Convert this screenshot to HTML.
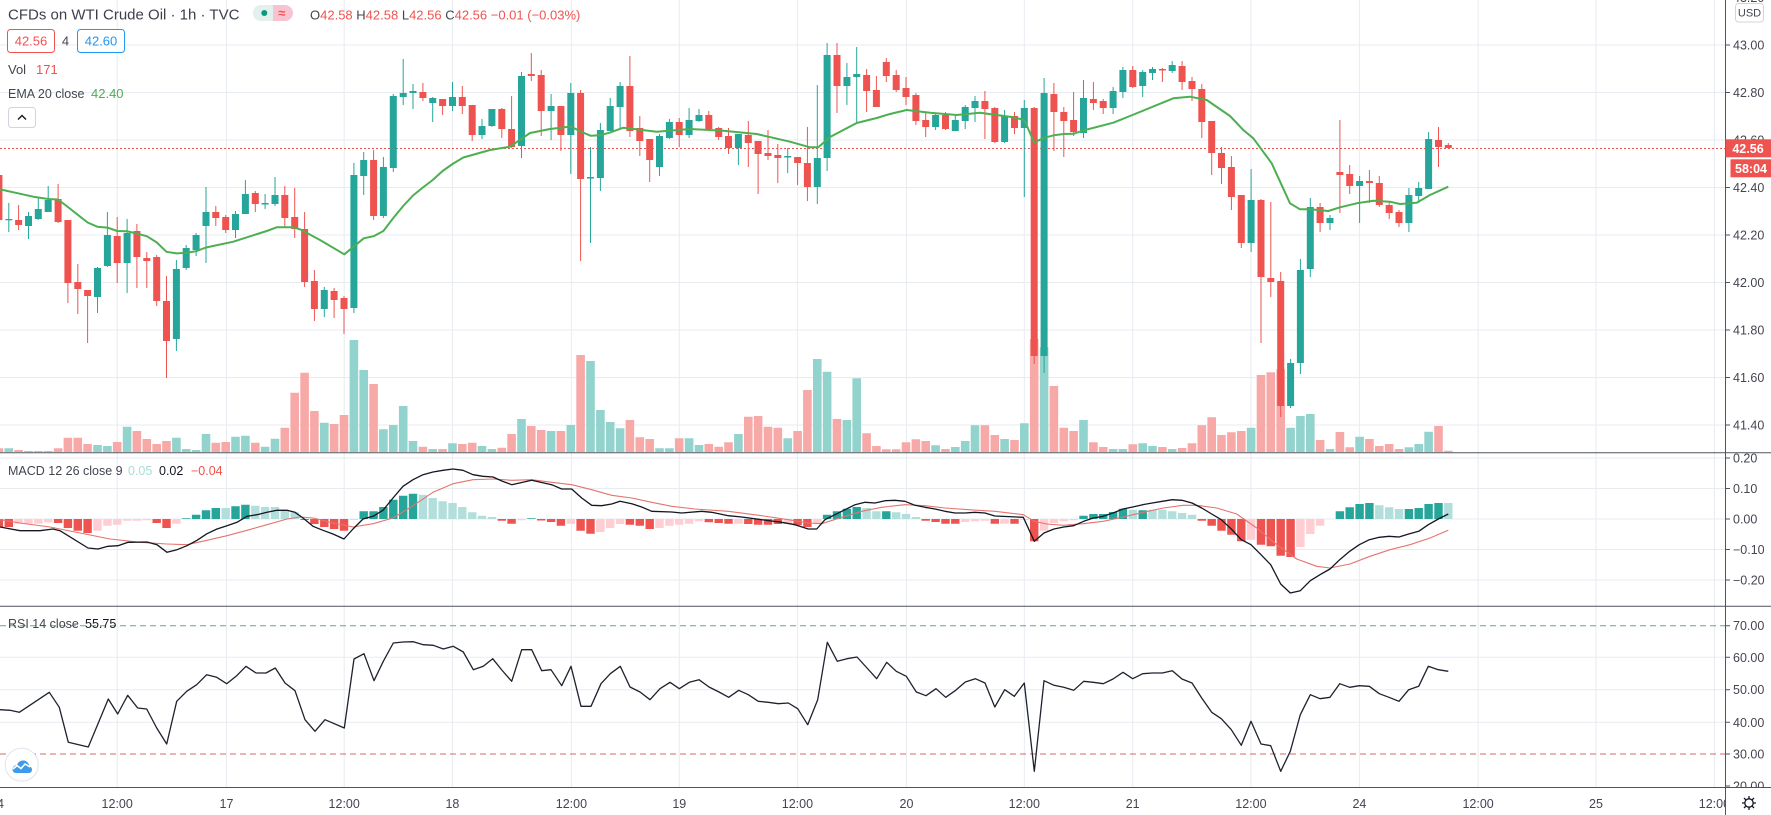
<!DOCTYPE html>
<html><head><meta charset="utf-8"><style>
html,body{margin:0;padding:0;background:#fff;}
body{width:1771px;height:815px;overflow:hidden;}
svg{display:block;}
</style></head><body>
<svg width="1771" height="815" viewBox="0 0 1771 815" xmlns="http://www.w3.org/2000/svg" font-family="'Liberation Sans', Arial, sans-serif">
<defs>
<clipPath id="cMain"><rect x="0" y="0" width="1725" height="452.5"/></clipPath>
<clipPath id="cMacd"><rect x="0" y="453.5" width="1725" height="152.5"/></clipPath>
<clipPath id="cRsi"><rect x="0" y="607" width="1725" height="180"/></clipPath>
<clipPath id="aMain"><rect x="1725" y="0" width="46" height="452.5"/></clipPath>
<clipPath id="aMacd"><rect x="1725" y="453.5" width="46" height="152.5"/></clipPath>
<clipPath id="aRsi"><rect x="1725" y="607" width="46" height="180"/></clipPath>
<clipPath id="aTime"><rect x="0" y="788" width="1725" height="27"/></clipPath>
</defs>
<rect width="1771" height="815" fill="#fff"/>

<!-- grid -->
<g stroke="#e8ebf0" stroke-width="1">
<path d="M117.2 0V787M226.5 0V787M344.2 0V787M452.4 0V787M571.4 0V787M679.3 0V787M797.4 0V787M906.5 0V787M1024.3 0V787M1132.7 0V787M1250.9 0V787M1359.4 0V787M1478.1 0V787M1596 0V787M1714.4 0V787"/>
<path d="M0 45H1725M0 92.5H1725M0 140H1725M0 187.5H1725M0 235H1725M0 282.5H1725M0 330H1725M0 377.5H1725M0 425H1725"/>
<path d="M0 458H1725M0 488.5H1725M0 519H1725M0 549.5H1725M0 580H1725"/>
<path d="M0 657.3H1725M0 689.7H1725M0 722.3H1725"/>
</g>

<!-- MAIN PANE -->
<g clip-path="url(#cMain)">
<!-- volume -->
<path fill="none" stroke="#93d3cd" stroke-width="8.6" d="M8.8 448.3V452M28.5 451V452M38.3 451V452M48.2 451V452M97.5 445V452M107.4 446V452M127.1 426.7V452M176.4 437.7V452M186.2 449V452M196.1 450V452M206 434V452M235.5 436.7V452M245.4 435.7V452M265.1 446.7V452M275 438.7V452M324.3 422.7V452M353.9 340V452M363.7 370V452M383.4 429.3V452M393.3 425V452M403.2 406V452M413 441V452M432.7 449V452M452.5 443.3V452M482 446V452M491.9 449V452M521.5 419V452M551.1 431V452M570.8 425V452M590.5 361V452M600.4 410V452M610.2 422V452M620.1 428.3V452M659.5 448.3V452M669.4 448.3V452M689.1 438.3V452M699 445V452M738.4 434V452M787.7 438.3V452M817.3 359V452M827.1 371.7V452M846.9 420V452M856.7 378.3V452M935.6 445.3V452M955.3 447V452M965.2 441V452M975 425.3V452M1004.6 439V452M1024.3 423.3V452M1044.1 347.3V452M1083.5 420V452M1113.1 449V452M1122.9 449V452M1142.7 443.3V452M1152.5 446V452M1172.2 449V452M1251.1 427.7V452M1290.6 427.7V452M1300.4 416V452M1310.3 414V452M1330 449V452M1359.6 436.7V452M1408.9 447.3V452M1418.7 444V452M1428.6 431.7V452"/>
<path fill="none" stroke="#f7a9a8" stroke-width="8.6" d="M-1.1 448.3V452M18.6 450V452M58.1 448.3V452M67.9 437.7V452M77.8 437.7V452M87.6 444V452M117.2 442V452M136.9 431V452M146.8 439V452M156.7 444V452M166.5 441V452M215.8 442.7V452M225.7 442V452M255.3 442.7V452M284.8 427.7V452M294.7 392.7V452M304.6 372.7V452M314.4 411V452M334.1 424V452M344 415V452M373.6 384V452M422.9 446.7V452M442.6 449V452M462.3 444V452M472.2 442.7V452M501.8 447.7V452M511.6 434V452M531.3 426V452M541.2 430V452M560.9 431V452M580.6 355V452M629.9 420V452M639.8 437.3V452M649.7 439V452M679.2 438.3V452M708.8 444V452M718.7 446.7V452M728.5 442.3V452M748.3 416.7V452M758.1 416V452M768 426.7V452M777.8 427.7V452M797.6 431V452M807.4 390V452M837 419V452M866.6 433.3V452M876.4 446V452M886.3 449.3V452M896.2 449.3V452M906 442.3V452M915.9 439.3V452M925.7 441V452M945.5 449V452M984.9 425.3V452M994.8 435V452M1014.5 440V452M1034.2 339V452M1053.9 386V452M1063.8 427.7V452M1073.6 431V452M1093.4 442.3V452M1103.2 447V452M1132.8 444.3V452M1162.4 447V452M1182.1 448V452M1192 443.3V452M1201.8 425.3V452M1211.7 417.3V452M1221.5 435V452M1231.4 432.3V452M1241.3 431V452M1261 375V452M1270.8 372.3V452M1280.7 369.3V452M1320.1 440V452M1339.9 432V452M1349.7 447.3V452M1369.4 439V452M1379.3 446V452M1389.2 444V452M1399 449V452M1438.5 426V452M1448.3 450.7V452"/>

<!-- last price dotted line -->
<path d="M0 148.5H1725" stroke="#ef5350" stroke-width="1" stroke-dasharray="2 2"/>

<!-- green candles -->
<path fill="none" stroke="#26a69a" stroke-width="1" d="M8.8 203V232M28.5 212V239M38.3 198V220M48.2 186V212M97.5 267V313M107.4 212V267M127.1 219V293M176.4 260V351M186.2 245V270M196.1 233V256M206 187V263M235.5 211V238M245.4 180V214M265.1 194V209M275 177V206M324.3 287V317M353.9 163V313M363.7 152V195M383.4 157V218M393.3 94V172M403.2 59V105M413 84V109M432.7 97V122M452.5 82V111M482 119V139M491.9 109V127M521.5 72V158M551.1 94V140M570.8 83V174M590.5 147V243M600.4 123V191M610.2 98V131M620.1 82V129M659.5 134V176M669.4 119V139M689.1 108V138M699 109V122M738.4 134V165M787.7 148V173M817.3 85V204M827.1 43V171M846.9 63V105M856.7 47V123M935.6 113V130M955.3 116V131M965.2 105V129M975 96V122M1004.6 110V143M1024.3 100V197M1044.1 78V373M1083.5 80V138M1113.1 87V114M1122.9 67V98M1142.7 70V97M1152.5 67V80M1172.2 61V73M1251.1 169V252M1290.6 359V408M1300.4 259V374M1310.3 198V277M1330 215V230M1359.6 176V223M1408.9 188V232M1418.7 182V203M1428.6 132V189"/>
<path fill="none" stroke="#26a69a" stroke-width="7" d="M8.8 219V220.2M28.5 216V226M38.3 209V219M48.2 200V212M97.5 268V297M107.4 235V266M127.1 233V263M176.4 269V339M186.2 248V268M196.1 235V250M206 212V226M235.5 214V230M245.4 194V214M265.1 203V204.5M275 195V204M324.3 290V309M353.9 175V308M363.7 160V176M383.4 167V216M393.3 96V168M403.2 93V97M413 91V93M432.7 98V103M452.5 97V106M482 126V135M491.9 109V126M521.5 76V146M551.1 106V111M570.8 93V135M590.5 177V178.5M600.4 130V178M610.2 106V131M620.1 86V107M659.5 136V167M669.4 122V138M689.1 120V135M699 115V121M738.4 134V148M787.7 156V157.5M817.3 158V187M827.1 55V158M846.9 77V86M856.7 74V77M935.6 115V127M955.3 120V131M965.2 107V121M975 101V108M1004.6 116V142M1024.3 108V128M1044.1 93V356M1083.5 98V133M1113.1 91V108M1122.9 70V92M1142.7 72V86M1152.5 69V73M1172.2 65V71M1251.1 200V243M1290.6 363V406M1300.4 270V363M1310.3 207V269M1330 218V223M1359.6 181V186M1408.9 195V223M1418.7 188V196M1428.6 139V189"/>
<!-- red candles -->
<path fill="none" stroke="#ef5350" stroke-width="1" d="M-1.1 170V225M18.6 205V230M58.1 184V223M67.9 220V303M77.8 264V314M87.6 290V343M117.2 217V283M136.9 224V288M146.8 252V288M156.7 255V306M166.5 276V378M215.8 206V226M225.7 215V233M255.3 191V212M284.8 186V228M294.7 188V238M304.6 212V287M314.4 270V321M334.1 288V318M344 296V334M373.6 150V220M422.9 83V101M442.6 99V115M462.3 86V114M472.2 105V141M501.8 108V138M511.6 96V148M531.3 53V81M541.2 70V136M560.9 106V151M580.6 90V261M629.9 56V137M639.8 116V156M649.7 139V182M679.2 118V147M708.8 111V130M718.7 127V140M728.5 128V154M748.3 121V167M758.1 141V194M768 130V160M777.8 144V183M797.6 157V185M807.4 127V201M837 43V113M866.6 69V112M876.4 76V107M886.3 58V82M896.2 70V92M906 77V105M915.9 93V125M925.7 113V137M945.5 112V130M984.9 91V139M994.8 107V143M1014.5 112V134M1034.2 107V364M1053.9 83V151M1063.8 107V157M1073.6 92V136M1093.4 82V110M1103.2 99V114M1132.8 66V88M1162.4 68V82M1182.1 61V90M1192 77V101M1201.8 84V138M1211.7 121V175M1221.5 147V184M1231.4 156V210M1241.3 195V248M1261 199V343M1270.8 202V297M1280.7 272V417M1320.1 203V232M1339.9 120V213M1349.7 165V194M1369.4 170V203M1379.3 176V207M1389.2 202V219M1399 210V227M1438.5 127V167M1448.3 143V148.5"/>
<path fill="none" stroke="#ef5350" stroke-width="7" d="M-1.1 175V220M18.6 220V225M58.1 199V222M67.9 220V283M77.8 282V289M87.6 290V296M117.2 236V263M136.9 231V257M146.8 258V261M156.7 257V301M166.5 301V341M215.8 212V218M225.7 217V230M255.3 193V204M284.8 195V218M294.7 217V229M304.6 229V282M314.4 281V309M334.1 291V300M344 298V309M373.6 160V216M422.9 92V98M442.6 99V106M462.3 97V106M472.2 105V135M501.8 109V129M511.6 129V147M531.3 74V76M541.2 75V111M560.9 106V135M580.6 93V179M629.9 86V131M639.8 128V141M649.7 139V160M679.2 122V135M708.8 115V129M718.7 128V137M728.5 136V148M748.3 135V143M758.1 141V154M768 153V156M777.8 155V158M797.6 157V163M807.4 163V187M837 55V86M866.6 75V91M876.4 90V107M886.3 62V76M896.2 75V90M906 88V97M915.9 95V121M925.7 120V127M945.5 115V129M984.9 101V109M994.8 108V142M1014.5 116V128M1034.2 108V356M1053.9 94V112M1063.8 112V121M1073.6 120V132M1093.4 99V103M1103.2 101V108M1132.8 70V87M1162.4 69V70.5M1182.1 66V82M1192 81V89M1201.8 89V122M1211.7 121V153M1221.5 153V168M1231.4 167V197M1241.3 195V243M1261 200V277M1270.8 278V282M1280.7 281V406M1320.1 207V223M1339.9 172V175M1349.7 174V186M1369.4 181V183M1379.3 183V205M1389.2 205V213M1399 212V223M1438.5 140V147M1448.3 145V148"/>

<!-- EMA 20 -->
<polyline fill="none" stroke="#4caf50" stroke-width="2" stroke-linejoin="round" points="0,189.3 33.3,196.7 48.2,199 58.1,199.5 67.9,207 77.8,214.8 87.6,222.5 97.5,226.8 107.4,227.6 117.2,231 127.1,231.2 136.9,233.6 146.8,236.2 156.7,242.4 166.5,251.8 176.4,253.4 186.2,252.9 196.1,251.2 206,247.5 233.3,241.7 266.7,231 276.7,227.3 293.3,227.3 300,229.3 320,240 344.3,254.3 353.9,246.5 363.7,238.3 373.6,236.2 383.4,231 393.3,218 403.2,206 413,195.5 422.9,187.5 432.7,180 442.6,171 452.5,164 463.3,157.5 490,150 510,146.7 530,133 550,129 570.8,126.5 580.6,131.5 590.5,135.7 600.4,135.2 610.2,132.4 623.3,127.7 656.7,131.7 690,129 723.3,130.7 756.7,134 790,141.7 810,147.3 818.3,147.3 830,137 856.7,123 876.7,118 890,114 906.7,110 930,112.7 956.7,115 980,112.7 1013.3,117.3 1024.3,120 1034.2,142.5 1044.1,137.8 1053.9,135.3 1063.8,134 1073.6,133.8 1083.5,130.4 1113.3,122.7 1130,116 1173.3,98.3 1190,96.7 1206.7,100 1230,116 1243.3,130 1253.3,138.3 1271.7,163.3 1290,203.3 1300,209.3 1310,209.3 1328.3,211 1340,207.3 1356.7,203.3 1373.3,200.7 1390,201.7 1400,204 1416.7,202.7 1430,195 1448.3,186.7"/>
</g>

<!-- MACD PANE -->
<g clip-path="url(#cMacd)">
<path fill="none" stroke="#26a69a" stroke-width="8.4" d="M186.2 519V518.3M196.1 519V514.7M206 519V510.3M215.8 519V508M235.5 519V506.3M245.4 519V504.7M363.7 519V511.3M373.6 519V511.3M383.4 519V507M393.3 519V499.7M403.2 519V495.7M413 519V493.7M531.3 519V518.3M827.1 519V514.7M837 519V511.3M846.9 519V508.7M856.7 519V507M886.3 519V511.3M1083.5 519V515.7M1093.4 519V514M1103.2 519V514M1113.1 519V512M1122.9 519V508.7M1142.7 519V510.3M1339.9 519V511.3M1349.7 519V507.3M1359.6 519V504M1369.4 519V503M1408.9 519V509M1418.7 519V508M1428.6 519V504M1438.5 519V503"/>
<path fill="none" stroke="#b2dfdb" stroke-width="8.4" d="M225.7 519V508M255.3 519V505.7M265.1 519V507M275 519V507M284.8 519V509.7M294.7 519V512.3M422.9 519V494.7M432.7 519V498M442.6 519V501.3M452.5 519V503M462.3 519V507M472.2 519V512.3M482 519V515.7M491.9 519V517M866.6 519V508M876.4 519V511.3M896.2 519V512.3M906 519V514M915.9 519V517M1132.8 519V509.7M1152.5 519V509.7M1162.4 519V509.7M1172.2 519V511.3M1182.1 519V513M1192 519V514.7M1379.3 519V505.3M1389.2 519V507.3M1399 519V509M1448.3 519V503"/>
<path fill="none" stroke="#ef5350" stroke-width="8.4" d="M-1.1 519V527M8.8 519V527M58.1 519V523M67.9 519V528M77.8 519V530.7M87.6 519V533M156.7 519V523M166.5 519V528M304.6 519V520M314.4 519V524M324.3 519V527M334.1 519V529M344 519V530.7M501.8 519V520.7M511.6 519V523.7M541.2 519V520.5M551.1 519V522M560.9 519V525.7M580.6 519V530.7M590.5 519V533.7M629.9 519V524.7M639.8 519V525.7M649.7 519V529M708.8 519V522.3M718.7 519V523M728.5 519V523.7M748.3 519V524M758.1 519V524.7M768 519V524.7M777.8 519V524M797.6 519V525.3M807.4 519V527M925.7 519V520.7M935.6 519V522M945.5 519V523.7M955.3 519V523.7M994.8 519V523.7M1014.5 519V523.7M1034.2 519V541.3M1201.8 519V520.7M1211.7 519V525.7M1221.5 519V530.7M1231.4 519V534.7M1241.3 519V541.3M1261 519V544.7M1270.8 519V546.3M1280.7 519V555.7M1290.6 519V557"/>
<path fill="none" stroke="#ffcdd2" stroke-width="8.4" d="M18.6 519V523.7M28.5 519V523.7M38.3 519V523.7M48.2 519V522.3M97.5 519V530.7M107.4 519V525.7M117.2 519V524.7M127.1 519V520.7M136.9 519V520.7M146.8 519V520.3M176.4 519V523.7M353.9 519V520M521.5 519V520.3M570.8 519V523.7M600.4 519V532M610.2 519V528M620.1 519V524M659.5 519V528M669.4 519V525.7M679.2 519V524.7M689.1 519V523.7M699 519V521.3M738.4 519V523.7M787.7 519V524M817.3 519V523M965.2 519V522M975 519V521.3M984.9 519V520.7M1004.6 519V523.7M1024.3 519V520M1044.1 519V530.7M1053.9 519V523M1063.8 519V521.3M1073.6 519V520.3M1251.1 519V539.7M1300.4 519V547M1310.3 519V534M1320.1 519V525.7"/>
<!-- signal -->
<polyline fill="none" stroke="#e4746f" stroke-width="1.1" stroke-linejoin="round" points="0,519.7 20,523 50,527 80,533 110,539 140,542.3 167,544 187,544.7 207,540.3 227,535.7 247,530.3 267,524.7 287,519 300,517 313,518 333,523 353,527 373,523.7 393,518 413,505.7 433,492.3 453,483.7 473,479.7 493,479 511.7,480.3 531.7,479.7 551.7,482.3 571.7,484.7 591.7,489.7 611.7,495.3 631.7,498 651.7,502.3 671.7,506.3 695,509 728.3,511.3 761.7,515.7 788.3,519.7 808.3,523 821.7,523.7 841.7,517.3 861.7,511.3 881.7,507.3 905,504.7 925,505.7 945,508 968.3,509.7 995,511.3 1023.3,514.7 1034.3,521.3 1046.7,524 1063.3,525.3 1083.3,523.7 1103.3,521.3 1123.3,517 1143.3,512.3 1163.3,508 1183.3,505.3 1196.7,505.3 1216.7,508 1236.7,514 1256.7,528 1276.7,544.7 1296.7,559 1316.7,566.3 1330,568 1350,564 1370,556.3 1390,549.7 1410,544.7 1430,538 1448.3,530.3"/>
<!-- macd -->
<polyline fill="none" stroke="#131722" stroke-width="1.3" stroke-linejoin="round" points="0,527 20,530.7 40,530.7 53,529 60,530.7 88,548 98,549 108,546.3 118,545.7 128,542.3 147,542 157,544.7 167,552.3 177,549.7 187,545.7 197,540.3 207,533.7 217,529 227,525.7 237,522.3 247,516.3 257,514.7 267,512.3 277,510.3 287,510.3 295,512.3 303,518 313,526.3 323,530.3 333,534 344,539 353,529 363,519 373,516.3 383,510.3 393,498 403,486.3 413,479.7 423,474.7 433,472 443,470.3 453,469 463,470.3 473,474.7 483,476.3 493,477 501.8,481 511.7,484.7 531.7,480.3 551.7,484.7 561.7,489 571.7,489 581.7,498 591.7,505.3 601.7,505.7 611.7,504 620,501.3 631.7,503.7 641.7,507 651.7,511.3 671.7,512 681.7,513 701.7,511.3 711.7,512.3 728.3,515.7 741.7,517 761.7,519.7 781.7,522.3 795,524.7 808.3,529 816.7,529 825,519.7 835,514.7 845,509.7 855,504.7 865,502.3 875,503 885,500.7 895,500.3 905,501.3 915,505.3 925,507.3 935,509 945,511.3 955,513 965,513 975,512.3 985,513 994.8,516 1023.3,517.3 1034.3,541.3 1044,533 1054,529 1063.7,527 1073.7,525.7 1083.7,521.3 1093.3,518 1103.3,516.3 1113,513 1123,509 1132.7,507 1142.7,504.7 1152.3,503 1162.3,501.3 1172.3,499.7 1182,500.3 1192,503 1201.7,508 1211.7,514 1221.3,519.7 1231.3,529 1241.3,539.7 1251,544.7 1261,554.7 1270.7,564.7 1280.7,584 1290.3,593 1300.3,590.7 1310.3,580.7 1320,574.7 1330,569 1339.7,559.7 1349.7,551.3 1359.3,544.7 1369.3,539.7 1379.3,537.3 1389,536.3 1399,537 1408.7,534 1418.7,531.3 1428.3,524.7 1438.3,519 1448.3,514"/>
</g>

<!-- RSI PANE -->
<g clip-path="url(#cRsi)">
<path d="M0 625.7H1725" stroke="#6fa584" stroke-width="1" stroke-dasharray="6 4"/>
<path d="M0 754H1725" stroke="#d06a68" stroke-width="1" stroke-dasharray="6 4"/>
<polyline fill="none" stroke="#1e222d" stroke-width="1.3" stroke-linejoin="round" points="0,709.7 10,710.3 19.3,712.3 49.3,692.3 59.3,707.3 68.3,742.3 88.3,747 108.3,699 117.7,714 127.7,695.3 137.7,708 146.7,709 156.7,728 166.7,744 176.7,701.3 186.7,691.3 196.7,684.7 206.7,674.7 216.7,677.3 226.7,683.7 236.7,675.7 246,666.3 256,673 266,673 275.3,668 285,683 295,690.7 305,719.7 315,731.3 325,719.7 344.3,728 354,659 364,653.7 374,680.7 383.3,661.3 393.3,643 403.3,642 413.3,641.7 423.3,644.7 433.3,645.3 443.3,649 453.3,646.3 463.3,652 473.3,669.7 483.3,666.3 492.7,658.7 501.8,670 511.7,681.3 521.7,649.7 531.7,649.7 541.7,670.7 551,669.7 561.7,685.7 571,666.3 581,706.3 591,706.3 601,683.7 610.3,673.7 620.3,666.3 630,687 640,692 650,699.7 660,688.7 670,682.3 679.3,688.7 689.3,682.3 699,679.7 709,687 719,692 728.7,697.3 738.7,690.3 748.3,694.7 758.3,701.3 768.3,702.3 778.3,703.7 788.3,703 797.7,708.7 807.7,724.7 817.7,699.7 827.3,642.3 837.3,661.3 847,658.7 857,657 867,668 876.7,678.7 886.7,662.3 896.3,671.3 906.3,676.3 916.3,692 926,695.7 936,688.7 945.7,697.3 955.7,690.3 965.3,682 975.3,678.7 985,683 994.8,707 1004.7,689.7 1014.3,696.3 1024.3,683 1034.3,771.3 1044,680.7 1054,685.3 1063.7,687.3 1073.7,690.3 1083.7,681.3 1093.3,682.3 1103.3,683.7 1113,679 1123,672.3 1132.7,678.7 1142.7,673.7 1152.3,673 1162.3,673 1172.3,670.7 1182,679 1192,683 1201.7,698 1211.7,712.3 1221.3,718.7 1231.3,729.7 1241.3,745.3 1251,721.3 1261,744 1270.7,745.7 1280.7,771.3 1290.3,751.3 1300.3,714.7 1310.3,694.7 1320,698.7 1330,697.3 1339.7,683.7 1349.7,687.3 1359.3,685.7 1369.3,686.3 1379.3,693.7 1389,697.3 1399,701.3 1408.7,689.7 1418.7,686.3 1428.3,666.3 1438.3,669.7 1448.3,671.3"/>
<!-- TV logo -->
<circle cx="21.7" cy="764.7" r="16.5" fill="#fff" stroke="#e0e3eb" stroke-width="1"/>
<path fill="#3d9be9" d="M12.5 769.5c0-2.5 2-4.5 4.5-4.5c1-3 3.5-4.5 6-4.5c3.5 0 6 2.5 6.2 5.7c1.6 .4 2.8 1.8 2.8 3.5c0 2-1.6 3.3-3.5 3.3h-12.5c-2 0-3.5-1.5-3.5-3.5z"/>
<polyline points="13,769 17,765.5 21,768.5 25,764 30,767" stroke="#fff" stroke-width="1.6" fill="none"/>
</g>

<!-- pane separators and axis -->
<g stroke="#50535e" stroke-width="1">
<path d="M0 452.7H1771M0 606.3H1771M0 787.5H1771"/>
<path d="M1725.5 0V815"/>
<path d="M1725 45H1730M1725 92.5H1730M1725 140H1730M1725 187.5H1730M1725 235H1730M1725 282.5H1730M1725 330H1730M1725 377.5H1730M1725 425H1730M1725 458H1730M1725 488.5H1730M1725 519H1730M1725 549.5H1730M1725 580H1730M1725 625.7H1730M1725 657.3H1730M1725 689.7H1730M1725 722.3H1730M1725 754H1730M1725 786H1730"/>
</g>

<!-- price axis labels -->
<g font-size="12.5" fill="#434651">
<g clip-path="url(#aMain)">
<text x="1733" y="2">43.20</text>
<text x="1733" y="49.5">43.00</text>
<text x="1733" y="97">42.80</text>
<text x="1733" y="144.5">42.60</text>
<text x="1733" y="192">42.40</text>
<text x="1733" y="239.5">42.20</text>
<text x="1733" y="287">42.00</text>
<text x="1733" y="334.5">41.80</text>
<text x="1733" y="382">41.60</text>
<text x="1733" y="429.5">41.40</text>
</g>
<g clip-path="url(#aMacd)">
<text x="1733" y="462.5">0.20</text>
<text x="1733" y="493">0.10</text>
<text x="1733" y="523.5">0.00</text>
<text x="1733" y="554">−0.10</text>
<text x="1733" y="584.5">−0.20</text>
</g>
<g clip-path="url(#aRsi)">
<text x="1733" y="630.2">70.00</text>
<text x="1733" y="661.8">60.00</text>
<text x="1733" y="694.2">50.00</text>
<text x="1733" y="726.8">40.00</text>
<text x="1733" y="758.5">30.00</text>
<text x="1733" y="790.5">20.00</text>
</g>
</g>

<!-- USD box -->
<rect x="1735.5" y="3.5" width="28" height="18.5" rx="3" fill="#fff" stroke="#d1d4dc"/>
<text x="1749.5" y="16.5" font-size="11" fill="#434651" text-anchor="middle">USD</text>

<!-- price labels -->
<rect x="1725.5" y="139.3" width="45.5" height="18" fill="#ef5350"/>
<text x="1748" y="152.8" font-size="12.5" font-weight="bold" fill="#fff" text-anchor="middle">42.56</text>
<rect x="1730.5" y="159.3" width="40.5" height="18" fill="#ef5350"/>
<text x="1751" y="172.8" font-size="12.5" font-weight="bold" fill="#fff" text-anchor="middle">58:04</text>

<!-- time axis labels -->
<g font-size="12.5" fill="#434651" text-anchor="middle" clip-path="url(#aTime)">
<text x="-3" y="808">14</text>
<text x="117.2" y="808">12:00</text>
<text x="226.5" y="808">17</text>
<text x="344.2" y="808">12:00</text>
<text x="452.4" y="808">18</text>
<text x="571.4" y="808">12:00</text>
<text x="679.3" y="808">19</text>
<text x="797.4" y="808">12:00</text>
<text x="906.5" y="808">20</text>
<text x="1024.3" y="808">12:00</text>
<text x="1132.7" y="808">21</text>
<text x="1250.9" y="808">12:00</text>
<text x="1359.4" y="808">24</text>
<text x="1478.1" y="808">12:00</text>
<text x="1596" y="808">25</text>
<text x="1714.4" y="808">12:00</text>
</g>

<!-- gear -->
<g transform="translate(1749,803)" stroke="#131722" stroke-width="1.3" fill="none">
<circle r="4.2"/>
<path d="M0 -7V-4.4M0 4.4V7M-7 0H-4.4M4.4 0H7M-5 -5L-3.1 -3.1M3.1 3.1L5 5M-5 5L-3.1 3.1M3.1 -3.1L5 -5"/>
</g>

<!-- header legend -->
<text x="8" y="19.5" font-size="15" fill="#3c3f4a">CFDs on WTI Crude Oil · 1h · TVC</text>
<rect x="253" y="5" width="40" height="16" rx="8" fill="#f7c3d1"/>
<path d="M261 5H273V21H261A8 8 0 0 1 261 5Z" fill="#e3f1ee"/>
<circle cx="264.3" cy="13" r="3" fill="#089981"/>
<text x="281.7" y="17.5" font-size="13" font-weight="bold" fill="#ef5350" text-anchor="middle">≈</text>
<text x="310" y="19.5" font-size="13" fill="#434651">O<tspan fill="#ef5350">42.58</tspan> H<tspan fill="#ef5350">42.58</tspan> L<tspan fill="#ef5350">42.56</tspan> C<tspan fill="#ef5350">42.56 −0.01 (−0.03%)</tspan></text>

<rect x="7.5" y="29.5" width="47" height="23" rx="3" fill="#fff" stroke="#ef5350"/>
<text x="31" y="45.5" font-size="13" fill="#ef5350" text-anchor="middle">42.56</text>
<text x="65.5" y="45.5" font-size="13" fill="#434651" text-anchor="middle">4</text>
<rect x="77.5" y="29.5" width="47" height="23" rx="3" fill="#fff" stroke="#2196f3"/>
<text x="101" y="45.5" font-size="13" fill="#2196f3" text-anchor="middle">42.60</text>

<text x="8" y="74" font-size="13" fill="#434651">Vol</text>
<text x="36" y="74" font-size="13" fill="#ef5350">171</text>
<text x="8" y="98" font-size="12.5" fill="#434651">EMA 20 close</text>
<text x="91" y="98" font-size="13" fill="#4caf50">42.40</text>

<rect x="8.5" y="107.5" width="27" height="20" rx="3" fill="#fff" stroke="#d1d4dc"/>
<polyline points="18,119.5 22,115.5 26,119.5" fill="none" stroke="#131722" stroke-width="1.4"/>

<!-- MACD legend -->
<text x="8" y="475" font-size="12.5" fill="#434651">MACD 12 26 close 9</text>
<text x="128" y="475" font-size="12.5" fill="#a9dcd6">0.05</text>
<text x="159" y="475" font-size="12.5" fill="#131722">0.02</text>
<text x="191" y="475" font-size="12.5" fill="#ef5350">−0.04</text>

<!-- RSI legend -->
<text x="8" y="628" font-size="12.5" fill="#434651">RSI 14 close</text>
<text x="85" y="628" font-size="12.5" fill="#131722">55.75</text>
</svg>
</body></html>
